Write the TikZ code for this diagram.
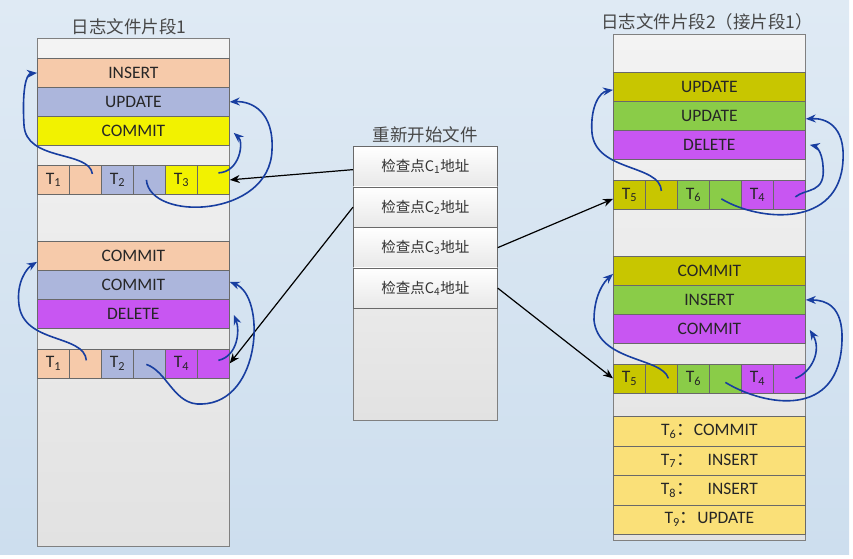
\documentclass[tikz,border=0pt]{standalone}
\usepackage{fontspec}
\setmainfont{Carlito}
\newfontfamily\cjk{Noto Sans CJK SC}
\usetikzlibrary{arrows.meta}
\definecolor{bgtop}{RGB}{223,234,244}
\definecolor{bgbot}{RGB}{205,222,238}
\definecolor{colgray}{RGB}{243,243,243}
\definecolor{edgegray}{RGB}{105,105,105}
\definecolor{peach}{RGB}{246,202,170}
\definecolor{lav}{RGB}{172,182,220}
\definecolor{yel}{RGB}{242,242,0}
\definecolor{purp}{RGB}{200,86,242}
\definecolor{olive}{RGB}{200,198,0}
\definecolor{leaf}{RGB}{138,204,72}
\definecolor{cream}{RGB}{250,224,120}
\definecolor{ptrblue}{RGB}{24,62,160}
\newcommand\Tn[1]{T\textsubscript{#1}}

\begin{document}
\begin{tikzpicture}[x=1pt,y=-1pt,font=\fontsize{17.5}{20}\selectfont,
col/.style={draw=gray,line width=.9pt,top color=colgray,bottom color=colgray!93!black,anchor=north west,inner sep=0pt},
rowbox/.style={draw=edgegray,line width=.75pt,minimum width=192pt,minimum height=29pt,inner sep=0pt,anchor=north west,text=black!85},
cell/.style={draw=edgegray,line width=.75pt,minimum width=32pt,minimum height=29pt,inner sep=0pt,anchor=north west,text=black!85},
addr/.style={draw=edgegray,line width=.75pt,minimum width=144pt,minimum height=40.5pt,inner sep=0pt,anchor=north west,
  top color=white,bottom color=black!9,font=\cjk\fontsize{14.5}{17}\selectfont,text=black!80},
title/.style={font=\cjk\fontsize{17.5}{20}\selectfont,text=black!72},
ptr/.style={-{Stealth[length=10pt,width=8pt]},line width=1.6pt,draw=ptrblue},
jump/.style={-{Stealth[length=10pt,width=8pt]},line width=1.2pt,draw=black}]

\useasboundingbox (0,0) rectangle (853,558);
\fill[top color=bgtop,bottom color=bgbot] (0,0) rectangle (849,554);

% log segment 1
\node[title] (seg1t) at (129,27) {日志文件片段1};
\node[col,minimum width=192pt,minimum height=508pt] (seg1) at (37,38) {};
\node[rowbox,fill=peach] (li) at (37,58) {INSERT};
\node[rowbox,fill=lav] (lu) at (37,87) {UPDATE};
\node[rowbox,fill=yel] (lc) at (37,116) {COMMIT};
\node[cell,fill=peach] (la1) at (37,165) {\Tn1};
\node[cell,fill=peach] (la2) at (69,165) {};
\node[cell,fill=lav] (la3) at (101,165) {\Tn2};
\node[cell,fill=lav] (la4) at (133,165) {};
\node[cell,fill=yel] (la5) at (165,165) {\Tn3};
\node[cell,fill=yel] (la6) at (197,165) {};

\node[rowbox,fill=peach] (lc1) at (37,241) {COMMIT};
\node[rowbox,fill=lav] (lc2) at (37,270) {COMMIT};
\node[rowbox,fill=purp] (ld) at (37,299) {DELETE};
\node[cell,fill=peach] (lb1) at (37,348.5) {\Tn1};
\node[cell,fill=peach] (lb2) at (69,348.5) {};
\node[cell,fill=lav] (lb3) at (101,348.5) {\Tn2};
\node[cell,fill=lav] (lb4) at (133,348.5) {};
\node[cell,fill=purp] (lb5) at (165,348.5) {\Tn4};
\node[cell,fill=purp] (lb6) at (197,348.5) {};

% restart file
\node[title] (midt) at (425,135) {重新开始文件};
\node[col,minimum width=144pt,minimum height=274pt] (mid) at (353,146) {};
\node[addr] (m1) at (353,146) {检查点C\textsubscript{1}地址};
\node[addr] (m2) at (353,186.5) {检查点C\textsubscript{2}地址};
\node[addr] (m3) at (353,227) {检查点C\textsubscript{3}地址};
\node[addr] (m4) at (353,267.5) {检查点C\textsubscript{4}地址};

% log segment 2
\node[title] (seg2t) at (707,22) {日志文件片段2（接片段1）};
\node[col,minimum width=192pt,minimum height=506pt] (seg2) at (613,34) {};
\node[rowbox,fill=olive] (ru1) at (613,72) {UPDATE};
\node[rowbox,fill=leaf] (ru2) at (613,101) {UPDATE};
\node[rowbox,fill=purp] (rd) at (613,130) {DELETE};
\node[cell,fill=olive] (ra1) at (613,180) {\Tn5};
\node[cell,fill=olive] (ra2) at (645,180) {};
\node[cell,fill=leaf] (ra3) at (677,180) {\Tn6};
\node[cell,fill=leaf] (ra4) at (709,180) {};
\node[cell,fill=purp] (ra5) at (741,180) {\Tn4};
\node[cell,fill=purp] (ra6) at (773,180) {};

\node[rowbox,fill=olive] (rc1) at (613,256) {COMMIT};
\node[rowbox,fill=leaf] (ri) at (613,285) {INSERT};
\node[rowbox,fill=purp] (rc2) at (613,314) {COMMIT};
\node[cell,fill=olive] (rb1) at (613,363.5) {\Tn5};
\node[cell,fill=olive] (rb2) at (645,363.5) {};
\node[cell,fill=leaf] (rb3) at (677,363.5) {\Tn6};
\node[cell,fill=leaf] (rb4) at (709,363.5) {};
\node[cell,fill=purp] (rb5) at (741,363.5) {\Tn4};
\node[cell,fill=purp] (rb6) at (773,363.5) {};

\node[rowbox,fill=cream,minimum height=29.5pt] (y6) at (613,416) {\Tn6{\cjk ：}COMMIT};
\node[rowbox,fill=cream,minimum height=29.5pt] (y7) at (613,445.5) {\Tn7{\cjk ：}\hspace{.8em}INSERT};
\node[rowbox,fill=cream,minimum height=29.5pt] (y8) at (613,475) {\Tn8{\cjk ：}\hspace{.8em}INSERT};
\node[rowbox,fill=cream,minimum height=29.5pt] (y9) at (613,504.5) {\Tn9{\cjk ：}UPDATE};

% checkpoint pointers
\draw[jump] ([yshift=-3pt]m1.west) -- (la6.east);
\draw[jump] (m2.west) -- (lb6.east);
\draw[jump] (m3.east) -- ([yshift=-4pt]ra1.west);
\draw[jump] (m4.east) -- (rb1.west);

% transaction pointers
\draw[ptr] ([shift={(7,-6)}]la2.center) .. controls (89,150) and (26,162) .. (24,125) .. controls (22,90) and (26,74) .. (li.west);
\draw[ptr] ([shift={(-3,0)}]la4.center) .. controls (150,222) and (270,218) .. (272,150) .. controls (274,112) and (252,101) .. (lu.east);
\draw[ptr] ([shift={(5,-7)}]la6.center) .. controls (240,172) and (244,142) .. ([shift={(4,2)}]lc.east);

\draw[ptr] ([shift={(1,-3)}]lb2.center) .. controls (84,334) and (24,344) .. (19,305) .. controls (16,282) and (27,268) .. ([yshift=-6pt]lc1.west);
\draw[ptr] ([shift={(-3,1)}]lb4.center) .. controls (168,372) and (174,406) .. (202,404) .. controls (262,402) and (266,296) .. ([yshift=3pt]lc2.east);
\draw[ptr] ([shift={(5,-3)}]lb6.center) .. controls (238,356) and (240,330) .. ([shift={(4,1)}]ld.east);

\draw[ptr] ([shift={(0,-4)}]ra2.center) .. controls (660,164) and (596,172) .. (592,133) .. controls (590,106) and (600,92) .. ([yshift=-3pt]ru1.west);
\draw[ptr] ([shift={(-4,4)}]ra4.center) .. controls (760,222) and (840,228) .. (843,160) .. controls (845,126) and (826,118) .. ([yshift=-3pt]ru2.east);
\draw[ptr] ([shift={(6,2)}]ra6.center) .. controls (806,188) and (826,194) .. (823,166) .. controls (822,150) and (815,146) .. ([xshift=4pt]rd.east);

\draw[ptr] ([shift={(7,0)}]rb2.center) .. controls (662,357) and (598,362) .. (594,320) .. controls (594,294) and (605,281) .. ([yshift=-3pt]rc1.west);
\draw[ptr] ([shift={(0,4)}]rb4.center) .. controls (764,406) and (840,420) .. (842,340) .. controls (843,306) and (826,300) .. (ri.east);
\draw[ptr] ([shift={(6,0)}]rb6.center) .. controls (812,372) and (822,350) .. ([shift={(4,1)}]rc2.east);
\end{tikzpicture}
\end{document}
